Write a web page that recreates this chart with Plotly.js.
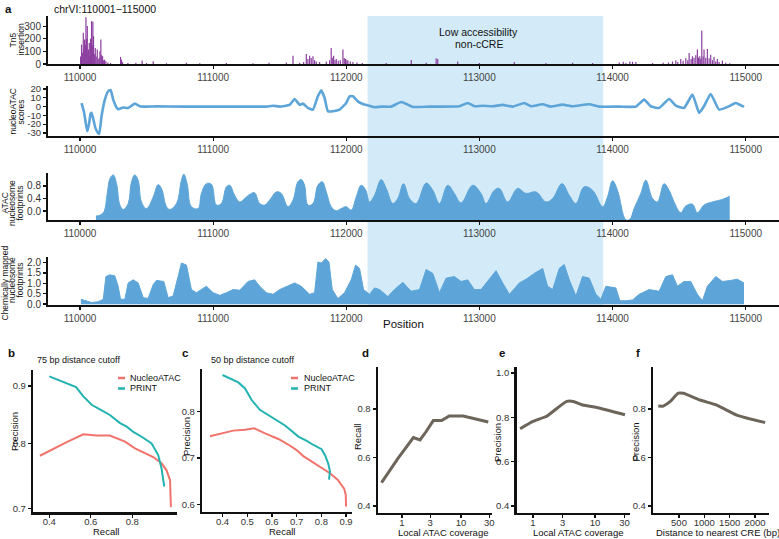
<!DOCTYPE html>
<html>
<head>
<meta charset="utf-8">
<script src="https://cdn.plot.ly/plotly-3.0.1.min.js"></script>
<style>
  html, body { margin: 0; padding: 0; background: #fff; }
  #chart { width: 779px; height: 539px; }
</style>
</head>
<body>
<div id="chart"></div>
<script>
// ---- panel a: genome tracks, chrVI:110001-115000 ----
const posTicks = [110000, 111000, 112000, 113000, 114000, 115000];
const lowAccessStart = 112160;
const lowAccessEnd = 113930;
const nucTicks = [-30, -20, -10, 0, 10, 20];
const nucTickText = ['-30', '-20', '-10', '0', '10', '20'];

const tn5Pos = [110005, 110012, 110018, 110025, 110030, 110035, 110040, 110045, 110050, 110055,
  110060, 110065, 110070, 110075, 110080, 110087, 110092, 110097, 110102, 110108, 110115, 110122,
  110130, 110137, 110145, 110150, 110157, 110163, 110170, 110178, 110185, 110195, 110210, 110230,
  110305, 110312, 110320, 110360, 110420, 110467, 110500, 110550, 110650, 110800, 110900, 111100,
  111300, 111420, 111550, 111600, 111650, 111680, 111700, 111712, 111725, 111737, 111750, 111762,
  111775, 111800, 111850, 111875, 111887, 111895, 111905, 111915, 111925, 111940, 111955, 111975,
  111985, 111995, 112005, 112012, 112030, 112050, 112080, 112120, 112300, 112488, 112600, 112675,
  112687, 112837, 113000, 113262, 113500, 113700, 113850, 114050, 114080, 114100, 114130, 114150,
  114175, 114300, 114380, 114420, 114450, 114475, 114490, 114512, 114530, 114550, 114565, 114575,
  114590, 114600, 114612, 114625, 114637, 114645, 114655, 114662, 114670, 114680, 114687, 114700,
  114712, 114725, 114737, 114750, 114762, 114775, 114787, 114800, 114825, 114850, 114880];
const tn5Count = [60, 154, 90, 247, 120, 194, 150, 370, 200, 300,
  90, 114, 167, 60, 200, 340, 150, 335, 220, 80, 127, 60,
  114, 40, 50, 100, 194, 70, 61, 30, 34, 21, 12, 8,
  56, 34, 15, 8, 10, 27, 8, 21, 6, 10, 6, 8,
  6, 10, 12, 66, 10, 15, 80, 40, 66, 48, 61, 30,
  20, 15, 20, 30, 127, 50, 66, 30, 40, 25, 30, 114,
  48, 40, 30, 27, 19, 15, 12, 8, 8, 32, 10, 45,
  40, 20, 8, 15, 8, 10, 8, 12, 18, 8, 20, 18,
  15, 8, 10, 12, 20, 29, 15, 40, 25, 45, 30, 88,
  40, 61, 50, 70, 114, 50, 61, 40, 265, 60, 114, 50,
  119, 45, 74, 30, 56, 20, 40, 15, 27, 10, 6];

const nucPos = [110012, 110030, 110045, 110055, 110068, 110080, 110087, 110100, 110115, 110135,
  110145, 110162, 110187, 110212, 110230, 110250, 110275, 110287, 110325, 110362, 110412, 110450,
  110500, 110575, 110775, 111000, 111250, 111400, 111450, 111500, 111575, 111612, 111650, 111675,
  111712, 111750, 111787, 111812, 111837, 111862, 111900, 111950, 112000, 112025, 112050, 112087,
  112125, 112175, 112212, 112262, 112337, 112412, 112462, 112500, 112625, 112850, 112912, 112962,
  113025, 113100, 113175, 113250, 113337, 113387, 113475, 113537, 113625, 113700, 113825, 113900,
  114050, 114175, 114237, 114287, 114350, 114425, 114475, 114537, 114600, 114650, 114687, 114737,
  114800, 114875, 114925, 114987];
const nucScore = [4, -6, -20, -28, -20, -8, -7, -14, -24, -30,
  -31, -11, 8, 17.5, 19, 8, -1, -3, -1, -1.5, 3.4, 0.5,
  0, 0.3, 0, 0, 0, 0, 1, 0, 2, 8.7, 2, 3.4,
  -1.5, -3.4, 11.8, 18.6, 9.9, -5.3, -5.3, -3.4, 4.2, 11.8, 11.8, 6,
  3, 1, -0.8, 0, 0, 5.3, 2.3, -0.4, 0, 0.4, 4.2, 0.4,
  1, 0.4, 2, 0, 4.2, 0.4, 2.7, 0, 2.3, 0.4, 2.7, 0,
  0, 0, 8, 0.4, -1.5, 8.7, 1, -1.5, 13.7, -7.2, 0.4, 14.4,
  -3.4, 0.4, 4.2, -0.4];

const atacPos = [110120, 110150, 110180, 110205, 110225, 110250, 110275, 110300, 110325, 110362,
  110387, 110412, 110437, 110462, 110500, 110550, 110587, 110612, 110650, 110675, 110725, 110762,
  110780, 110805, 110837, 110887, 110912, 110950, 110987, 111025, 111062, 111100, 111125, 111162,
  111200, 111250, 111287, 111312, 111350, 111387, 111425, 111475, 111512, 111562, 111600, 111637,
  111662, 111687, 111712, 111750, 111787, 111820, 111850, 111887, 111925, 111962, 112000, 112037,
  112075, 112112, 112145, 112175, 112212, 112262, 112300, 112350, 112387, 112430, 112475, 112525,
  112600, 112650, 112700, 112762, 112812, 112862, 112950, 113012, 113050, 113112, 113150, 113212,
  113287, 113350, 113425, 113500, 113550, 113620, 113675, 113725, 113787, 113850, 113925, 113962,
  114000, 114037, 114100, 114130, 114162, 114212, 114250, 114300, 114337, 114387, 114425, 114462,
  114512, 114550, 114600, 114637, 114687, 114750, 114825, 114880];
const atacSignal = [-0.16, -0.13, -0.02, 0.56, 1.03, 1.15, 0.87, 0.19, 0.05, 0.24,
  0.93, 1.15, 0.98, 0.29, 0.08, 0.45, 0.84, 0.72, 0.14, 0.05, 0.24, 0.98,
  1.17, 0.87, 0.14, 0.08, 0.56, 0.87, 0.85, 0.19, 0.24, 0.77, 0.82, 0.5,
  0.29, 0.45, 0.56, 0.58, 0.24, 0.19, 0.35, 0.61, 0.56, 0.14, 0.35, 0.93,
  1.0, 0.82, 0.19, 0.24, 0.82, 0.93, 0.61, 0.14, 0.01, 0.08, 0.14, 0.03,
  0.45, 0.82, 0.68, 0.29, 0.5, 1.0, 0.72, 0.24, 0.4, 0.87, 0.4, 0.24,
  0.89, 0.66, 0.24, 0.82, 0.56, 0.26, 0.82, 0.56, 0.24, 0.66, 0.72, 0.29,
  0.72, 0.56, 0.61, 0.29, 0.4, 0.87, 0.5, 0.24, 0.77, 0.66, 0.14, 0.45,
  0.96, 0.66, -0.28, -0.26, 0.08, 0.56, 0.98, 0.4, 0.29, 0.87, 0.66, 0.29,
  -0.05, 0.16, 0.22, -0.05, 0.19, 0.29, 0.37, 0.47];

const chemPos = [110007, 110050, 110087, 110137, 110175, 110195, 110225, 110262, 110287, 110305,
  110337, 110362, 110400, 110437, 110475, 110512, 110550, 110575, 110630, 110662, 110700, 110737,
  110762, 110800, 110837, 110875, 110912, 110950, 111000, 111050, 111100, 111150, 111200, 111262,
  111312, 111350, 111400, 111450, 111500, 111550, 111612, 111662, 111725, 111762, 111787, 111812,
  111845, 111870, 111895, 111937, 111987, 112037, 112070, 112100, 112130, 112175, 112212, 112250,
  112312, 112362, 112425, 112487, 112550, 112600, 112650, 112700, 112750, 112812, 112862, 112912,
  112962, 113012, 113062, 113125, 113175, 113225, 113300, 113350, 113412, 113475, 113512, 113550,
  113600, 113637, 113675, 113725, 113775, 113825, 113875, 113912, 113950, 114025, 114055, 114100,
  114150, 114200, 114275, 114350, 114400, 114450, 114487, 114537, 114587, 114637, 114675, 114712,
  114775, 114825, 114887, 114937, 114987];
const chemSignal = [0.23, 0.16, 0.08, 0.11, 0.23, 1.33, 1.41, 1.36, 0.86, 0.23,
  0.23, 1.02, 1.17, 1.02, 0.31, 0.27, 0.94, 1.14, 1.09, 0.31, 0.39, 1.33,
  1.98, 1.88, 0.7, 0.55, 0.7, 0.86, 0.55, 0.42, 0.55, 0.7, 0.67, 1.09,
  1.17, 0.86, 0.55, 0.47, 0.7, 0.86, 1.02, 0.86, 0.47, 0.55, 2.03, 1.98,
  2.19, 2.03, 0.7, 0.27, 0.55, 1.17, 1.88, 1.72, 0.7, 0.47, 0.78, 0.7,
  0.36, 0.7, 1.05, 0.62, 0.7, 1.67, 1.48, 0.55, 1.25, 1.33, 1.09, 1.17,
  0.7, 0.7, 1.09, 1.61, 1.02, 0.47, 1.02, 1.2, 1.48, 1.72, 0.86, 0.7,
  1.72, 1.91, 1.17, 0.39, 1.33, 1.25, 0.47, 0.23, 0.86, 0.78, 0.16, 0.16,
  0.2, 0.47, 0.7, 0.62, 1.33, 1.41, 0.86, 1.09, 1.09, 0.47, 0.16, 0.86,
  1.33, 1.09, 1.14, 1.2, 1.02];

// ---- panels b, c: precision / recall ----
const recall75Nuc = [0.355, 0.419, 0.484, 0.564, 0.628, 0.692, 0.765, 0.813, 0.853, 0.901, 0.941, 0.965, 0.982, 0.986];
const precision75Nuc = [0.780, 0.791, 0.802, 0.815, 0.813, 0.813, 0.803, 0.792, 0.786, 0.778, 0.768, 0.757, 0.742, 0.702];
const recall75Print = [0.400, 0.467, 0.529, 0.564, 0.604, 0.644, 0.692, 0.741, 0.773, 0.805, 0.845, 0.893, 0.925, 0.941, 0.954];
const precision75Print = [0.918, 0.908, 0.898, 0.881, 0.866, 0.858, 0.848, 0.834, 0.828, 0.819, 0.811, 0.800, 0.781, 0.760, 0.732];

const recall50Nuc = [0.349, 0.396, 0.443, 0.491, 0.528, 0.572, 0.626, 0.666, 0.700, 0.727, 0.761, 0.801, 0.835, 0.866, 0.893, 0.899, 0.900];
const precision50Nuc = [0.747, 0.753, 0.759, 0.761, 0.764, 0.753, 0.741, 0.729, 0.717, 0.704, 0.692, 0.679, 0.667, 0.653, 0.633, 0.620, 0.595];
const recall50Print = [0.400, 0.430, 0.464, 0.491, 0.518, 0.551, 0.585, 0.619, 0.653, 0.680, 0.707, 0.741, 0.768, 0.801, 0.815, 0.828, 0.835, 0.831];
const precision50Print = [0.879, 0.872, 0.863, 0.850, 0.825, 0.804, 0.793, 0.782, 0.770, 0.758, 0.746, 0.737, 0.728, 0.719, 0.706, 0.688, 0.671, 0.653];

// ---- panels d, e, f ----
const coverageD = [0.45, 0.86, 1.56, 2.02, 2.55, 3.39, 4.7, 6.3, 10.9, 29];
const recallD = [0.496, 0.597, 0.682, 0.672, 0.706, 0.752, 0.752, 0.771, 0.771, 0.746];
const coverageE = [0.62, 1.0, 1.66, 2.18, 3.5, 4.47, 6.1, 10.7, 30.5];
const precisionE = [0.749, 0.782, 0.805, 0.83, 0.872, 0.872, 0.857, 0.845, 0.812];
const distanceF = [91, 190, 322, 486, 585, 915, 1245, 1640, 2200];
const precisionF = [0.812, 0.812, 0.83, 0.865, 0.865, 0.837, 0.816, 0.775, 0.744];

const FONT = 'Liberation Sans, Arial, sans-serif';
const W = 779, H = 539;
const BLUE = '#5DA5D8';
const RED = '#F0736C';
const TEAL = '#22B3B0';
const GREYLINE = '#6D645A';
const atacBase = -0.284;
const chemBase = -0.02;

// pixel helpers for layout placement
const px = x => x / W;
const py = y => 1 - y / H;
const xDom = (l, r) => [px(l), px(r)];
const yDom = (t, b) => [py(b), py(t)];

function axis(domain, range, anchor, extra) {
    return Object.assign({
        domain: domain,
        range: range,
        anchor: anchor,
        showline: true,
        linecolor: '#111',
        linewidth: 2,
        ticks: 'outside',
        ticklen: 3,
        tickwidth: 1.2,
        tickcolor: '#111',
        showgrid: false,
        zeroline: false,
        fixedrange: true,
        tickfont: { family: FONT, size: 10, color: '#333' }
    }, extra || {});
}

const trackX = xDom(48, 779);
const trackRange = [109760, 115250];
const posAxis = { tickvals: posTicks, tickformat: 'd', tickfont: { family: FONT, size: 10, color: '#444' } };
// bottom row: smaller tick labels pulled up toward the axis
const smallFont = { tickfont: { family: FONT, size: 9.5, color: '#333' }, linewidth: 2.5 };
const smallX = Object.assign({ ticklabelstandoff: -4 }, smallFont);

const traces = [
    { type: 'bar', x: tn5Pos, y: tn5Count, width: 9, marker: { color: '#8B3E9F', line: { width: 0 } }, xaxis: 'x', yaxis: 'y' },
    { type: 'scatter', mode: 'lines', x: nucPos, y: nucScore, line: { color: BLUE, width: 2.6, shape: 'spline', smoothing: 0.4 }, xaxis: 'x2', yaxis: 'y2' },
    { type: 'scatter', mode: 'lines', x: [atacPos[0], atacPos[atacPos.length - 1]], y: [atacBase, atacBase], line: { width: 0, color: BLUE }, xaxis: 'x3', yaxis: 'y3' },
    { type: 'scatter', mode: 'lines', x: atacPos, y: atacSignal, fill: 'tonexty', fillcolor: BLUE, line: { color: BLUE, width: 1, shape: 'spline', smoothing: 1.1 }, xaxis: 'x3', yaxis: 'y3' },
    { type: 'scatter', mode: 'lines', x: [chemPos[0], chemPos[chemPos.length - 1]], y: [chemBase, chemBase], line: { width: 0, color: BLUE }, xaxis: 'x4', yaxis: 'y4' },
    { type: 'scatter', mode: 'lines', x: chemPos, y: chemSignal, fill: 'tonexty', fillcolor: BLUE, line: { color: BLUE, width: 1 }, xaxis: 'x4', yaxis: 'y4' },
    { type: 'scatter', mode: 'lines', x: recall75Nuc, y: precision75Nuc, line: { color: RED, width: 2 }, xaxis: 'x5', yaxis: 'y5' },
    { type: 'scatter', mode: 'lines', x: recall75Print, y: precision75Print, line: { color: TEAL, width: 2 }, xaxis: 'x5', yaxis: 'y5' },
    { type: 'scatter', mode: 'lines', x: recall50Nuc, y: precision50Nuc, line: { color: RED, width: 2 }, xaxis: 'x6', yaxis: 'y6' },
    { type: 'scatter', mode: 'lines', x: recall50Print, y: precision50Print, line: { color: TEAL, width: 2 }, xaxis: 'x6', yaxis: 'y6' },
    { type: 'scatter', mode: 'lines', x: coverageD, y: recallD, line: { color: GREYLINE, width: 3 }, xaxis: 'x7', yaxis: 'y7' },
    { type: 'scatter', mode: 'lines', x: coverageE, y: precisionE, line: { color: GREYLINE, width: 3, shape: 'spline', smoothing: 0.5 }, xaxis: 'x8', yaxis: 'y8' },
    { type: 'scatter', mode: 'lines', x: distanceF, y: precisionF, line: { color: GREYLINE, width: 3, shape: 'spline', smoothing: 0.5 }, xaxis: 'x9', yaxis: 'y9' }
];

function label(text, x, y, size, opts) {
    return Object.assign({
        text: text, x: px(x), y: py(y), xref: 'paper', yref: 'paper',
        showarrow: false, xanchor: 'center', yanchor: 'middle',
        font: { family: FONT, size: size, color: '#111' }
    }, opts || {});
}
const vlabel = (text, x, y, size) => label(text, x, y, size, { textangle: -90 });

const annotations = [
    label('<b>a</b>', 3, 9, 11.5, { xanchor: 'left' }),
    label('chrVI:110001\u2212115000', 52, 9, 10.5, { xanchor: 'left' }),
    label('Low accessibility', 479, 32, 10.5),
    label('non-cCRE', 479, 44, 10.5),
    vlabel('Tn5', 12.5, 40, 8.5),
    vlabel('insertion', 20.5, 40, 8.5),
    vlabel('nucleoATAC', 12.5, 112, 8.5),
    vlabel('scores', 20.5, 112, 8.5),
    vlabel('ATAC', 4.5, 203, 8.5),
    vlabel('nucleosome', 12, 203, 8.5),
    vlabel('footprints', 19.5, 203, 8.5),
    vlabel('Chemically mapped', 4.5, 283, 8.5),
    vlabel('nucleosome', 12, 280, 8.5),
    vlabel('footprints', 19.5, 280, 8.5),
    label('Position', 403, 324, 11.5),

    label('<b>b</b>', 6, 353, 11.5, { xanchor: 'left' }),
    label('75 bp distance cutoff', 35, 360, 9, { xanchor: 'left' }),
    label('NucleoATAC', 127.5, 377.7, 9, { xanchor: 'left' }),
    label('PRINT', 127.5, 388.3, 9, { xanchor: 'left' }),
    vlabel('Precision', 14, 432, 9.5),
    label('Recall', 106, 531, 9.5),

    label('<b>c</b>', 180, 353, 11.5, { xanchor: 'left' }),
    label('50 bp distance cutoff', 209, 360, 9, { xanchor: 'left' }),
    label('NucleoATAC', 301.5, 377.7, 9, { xanchor: 'left' }),
    label('PRINT', 301.5, 388.3, 9, { xanchor: 'left' }),
    vlabel('Precision', 186, 437, 9.5),
    label('Recall', 282, 531, 9.5),

    label('<b>d</b>', 360, 353, 11.5, { xanchor: 'left' }),
    vlabel('Recall', 357, 437, 9.5),
    label('Local ATAC coverage', 443, 532, 9.5),

    label('<b>e</b>', 497, 353, 11.5, { xanchor: 'left' }),
    vlabel('Precision', 497, 443, 9.5),
    label('Local ATAC coverage', 578, 532, 9.5),

    label('<b>f</b>', 634, 353, 11.5, { xanchor: 'left' }),
    vlabel('Precision', 634.5, 442, 9.5),
    label('Distance to nearest CRE (bp)', 718, 532, 9.5)
];

function legendKey(x0, x1, y, color) {
    return { type: 'line', xref: 'paper', yref: 'paper', x0: px(x0), x1: px(x1), y0: py(y), y1: py(y), line: { color: color, width: 2.5 } };
}

const shapes = [
    {
        type: 'rect', xref: 'x', yref: 'paper', layer: 'below',
        x0: lowAccessStart, x1: lowAccessEnd, y0: py(305), y1: py(16),
        fillcolor: '#D3EBF8', line: { width: 0 }
    },
    legendKey(118, 125, 378, RED),
    legendKey(118, 125, 388.5, TEAL),
    legendKey(291, 298, 378, RED),
    legendKey(291, 298, 388.5, TEAL)
];

const layout = {
    width: W,
    height: H,
    margin: { l: 0, r: 0, t: 0, b: 0 },
    paper_bgcolor: '#fff',
    plot_bgcolor: 'rgba(0,0,0,0)',
    showlegend: false,
    font: { family: FONT, color: '#111' },
    xaxis: axis(trackX, trackRange, 'y', posAxis),
    yaxis: axis(yDom(16, 64), [0, 380], 'x', { tickvals: [0, 100, 200, 300] }),
    xaxis2: axis(trackX, trackRange, 'y2', posAxis),
    yaxis2: axis(yDom(86, 136), [-33.5, 23.5], 'x2', { tickvals: nucTicks, ticktext: nucTickText, tickfont: { family: FONT, size: 9.5, color: '#333' } }),
    xaxis3: axis(trackX, trackRange, 'y3', posAxis),
    yaxis3: axis(yDom(173, 220), [atacBase, 1.21], 'x3', { tickvals: [0, 0.4, 0.8], tickformat: '.1f' }),
    xaxis4: axis(trackX, trackRange, 'y4', posAxis),
    yaxis4: axis(yDom(257, 304.5), [chemBase, 2.27], 'x4', { tickvals: [0, 0.5, 1, 1.5, 2], tickformat: '.1f' }),

    xaxis5: axis(xDom(33.3, 176.7), [0.323, 1.014], 'y5', Object.assign({ tickvals: [0.4, 0.6, 0.8], tickformat: '.1f' }, smallX)),
    yaxis5: axis(yDom(370, 512), [Math.log10(0.695), Math.log10(0.93)], 'x5', Object.assign({ type: 'log', tickvals: [0.7, 0.8, 0.9], ticktext: ['0.7', '0.8', '0.9'] }, smallFont)),
    xaxis6: axis(xDom(202.3, 351.7), [0.318, 0.923], 'y6', Object.assign({ tickvals: [0.4, 0.5, 0.6, 0.7, 0.8, 0.9], tickformat: '.1f' }, smallX)),
    yaxis6: axis(yDom(369, 511.7), [0.584, 0.892], 'x6', Object.assign({ tickvals: [0.6, 0.7, 0.8], tickformat: '.1f' }, smallFont)),
    xaxis7: axis(xDom(378, 491.7), [-0.407, 1.52], 'y7', Object.assign({ type: 'log', tickvals: [1, 3, 10, 30], ticktext: ['1', '3', '10', '30'] }, smallX)),
    yaxis7: axis(yDom(367.3, 512.7), [0.372, 0.972], 'x7', Object.assign({ tickvals: [0.4, 0.6, 0.8], tickformat: '.1f' }, smallFont)),
    xaxis8: axis(xDom(516.7, 630), [-0.263, 1.565], 'y8', Object.assign({ type: 'log', tickvals: [1, 3, 10, 30], ticktext: ['1', '3', '10', '30'] }, smallX)),
    yaxis8: axis(yDom(367.3, 512.7), [0.37, 1.026], 'x8', Object.assign({ tickvals: [0.4, 0.6, 0.8, 1.0], tickformat: '.1f' }, smallFont)),
    xaxis9: axis(xDom(653.3, 769.3), [-7, 2282], 'y9', Object.assign({ tickvals: [500, 1000, 1500, 2000], tickformat: 'd' }, smallX)),
    yaxis9: axis(yDom(367.3, 512.7), [0.372, 0.972], 'x9', Object.assign({ tickvals: [0.4, 0.6, 0.8], tickformat: '.1f' }, smallFont)),

    annotations: annotations,
    shapes: shapes
};

Plotly.newPlot('chart', traces, layout, { staticPlot: true, displayModeBar: false });
</script>
</body>
</html>
